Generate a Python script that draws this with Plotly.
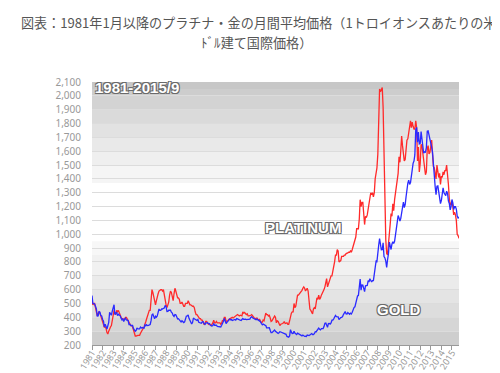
import plotly.graph_objects as go
import pandas as pd

# Monthly average prices (USD per troy ounce), Jan 1981 - Sep 2015
gold = [
    557, 500, 499, 496, 480, 460, 409, 410, 443, 437, 413, 410,  # 1981
    384, 374, 330, 350, 334, 315, 339, 364, 436, 422, 415, 444,  # 1982
    481, 491, 420, 432, 438, 413, 422, 416, 411, 394, 381, 388,  # 1983
    370, 386, 394, 381, 377, 377, 348, 348, 341, 340, 341, 320,  # 1984
    303, 299, 304, 324, 316, 317, 317, 330, 323, 326, 325, 322,  # 1985
    345, 339, 346, 340, 342, 343, 348, 376, 418, 423, 396, 390,  # 1986
    408, 401, 409, 438, 460, 450, 450, 461, 460, 465, 467, 486,  # 1987
    477, 442, 443, 451, 451, 451, 437, 431, 413, 406, 420, 418,  # 1988
    404, 388, 390, 384, 371, 367, 375, 365, 362, 367, 394, 409,  # 1989
    410, 417, 393, 374, 369, 352, 362, 395, 389, 381, 381, 378,  # 1990
    384, 364, 363, 358, 357, 367, 368, 356, 349, 358, 360, 361,  # 1991
    354, 354, 345, 338, 337, 341, 353, 343, 345, 344, 335, 334,  # 1992
    329, 329, 330, 342, 367, 372, 392, 379, 355, 364, 373, 383,  # 1993
    387, 382, 384, 377, 381, 385, 385, 380, 391, 389, 384, 379,  # 1994
    379, 377, 382, 391, 385, 387, 386, 383, 383, 383, 386, 387,  # 1995
    400, 405, 396, 393, 392, 385, 383, 387, 383, 381, 378, 369,  # 1996
    355, 346, 352, 344, 344, 341, 324, 324, 322, 325, 306, 289,  # 1997
    289, 297, 296, 308, 299, 292, 293, 284, 289, 296, 294, 291,  # 1998
    287, 288, 286, 282, 277, 262, 256, 257, 265, 311, 293, 283,  # 1999
    284, 300, 286, 280, 275, 286, 282, 275, 274, 270, 266, 272,  # 2000
    266, 262, 263, 261, 272, 270, 268, 273, 283, 283, 276, 276,  # 2001
    282, 296, 294, 302, 314, 322, 314, 310, 319, 317, 319, 333,  # 2002
    357, 359, 340, 328, 355, 356, 351, 360, 379, 379, 389, 407,  # 2003
    414, 405, 406, 404, 383, 392, 398, 400, 405, 420, 439, 442,  # 2004
    424, 423, 434, 428, 422, 430, 424, 437, 456, 470, 476, 510,  # 2005
    549, 555, 557, 610, 676, 596, 633, 632, 598, 586, 628, 629,  # 2006
    631, 665, 655, 679, 667, 655, 665, 665, 712, 754, 806, 803,  # 2007
    889, 923, 968, 909, 888, 889, 939, 839, 829, 806, 761, 816,  # 2008
    858, 943, 924, 890, 928, 946, 934, 949, 996, 1044, 1127, 1135,  # 2009
    1118, 1095, 1113, 1148, 1205, 1233, 1193, 1215, 1271, 1343, 1370, 1391,  # 2010
    1360, 1374, 1424, 1474, 1512, 1529, 1573, 1756, 1772, 1665, 1739, 1652,  # 2011
    1656, 1742, 1674, 1650, 1585, 1596, 1594, 1626, 1744, 1747, 1721, 1684,  # 2012
    1671, 1627, 1593, 1487, 1414, 1343, 1286, 1347, 1349, 1316, 1275, 1221,  # 2013
    1244, 1300, 1336, 1299, 1287, 1279, 1311, 1296, 1239, 1223, 1176, 1200,  # 2014
    1251, 1227, 1179, 1199, 1199, 1182, 1131, 1117, 1125,  # 2015
]

platinum = [
    520, 490, 500, 500, 470, 440, 410, 430, 440, 430, 410, 400,  # 1981
    370, 360, 330, 330, 320, 290, 280, 300, 320, 330, 340, 370,  # 1982
    410, 450, 430, 420, 450, 440, 450, 430, 420, 400, 390, 390,  # 1983
    380, 390, 400, 400, 390, 380, 360, 350, 340, 340, 330, 310,  # 1984
    280, 265, 265, 270, 270, 270, 270, 285, 300, 310, 320, 330,  # 1985
    360, 370, 390, 410, 440, 450, 450, 520, 600, 580, 550, 500,  # 1986
    490, 520, 560, 570, 590, 600, 600, 600, 590, 600, 550, 500,  # 1987
    490, 470, 490, 510, 560, 590, 580, 540, 520, 570, 610, 590,  # 1988
    550, 540, 540, 530, 500, 500, 510, 490, 480, 480, 500, 500,  # 1989
    500, 520, 500, 490, 490, 480, 480, 480, 470, 440, 420, 420,  # 1990
    410, 400, 390, 390, 380, 380, 360, 350, 350, 370, 370, 360,  # 1991
    350, 355, 350, 340, 350, 360, 380, 360, 360, 370, 360, 360,  # 1992
    355, 360, 350, 360, 380, 370, 400, 400, 370, 370, 375, 385,  # 1993
    390, 390, 395, 400, 395, 400, 410, 410, 420, 420, 415, 410,  # 1994
    415, 410, 410, 440, 430, 435, 430, 420, 425, 410, 410, 410,  # 1995
    415, 420, 410, 400, 395, 390, 395, 395, 385, 380, 385, 375,  # 1996
    360, 365, 380, 375, 400, 430, 420, 420, 410, 415, 395, 370,  # 1997
    375, 385, 400, 410, 400, 360, 375, 370, 355, 340, 350, 350,  # 1998
    355, 360, 370, 355, 355, 360, 350, 350, 375, 420, 430, 440,  # 1999
    440, 500, 470, 480, 520, 560, 560, 570, 580, 580, 595, 610,  # 2000
    620, 610, 590, 600, 610, 590, 530, 460, 450, 430, 425, 460,  # 2001
    470, 460, 510, 540, 530, 560, 530, 540, 560, 570, 580, 600,  # 2002
    620, 660, 680, 620, 640, 660, 690, 700, 700, 730, 760, 800,  # 2003
    850, 850, 890, 880, 800, 810, 810, 840, 840, 840, 850, 850,  # 2004
    860, 860, 865, 870, 870, 880, 870, 890, 910, 925, 960, 980,  # 2005
    1040, 1040, 1040, 1110, 1250, 1200, 1230, 1230, 1160, 1070, 1130, 1120,  # 2006
    1140, 1180, 1220, 1280, 1300, 1290, 1300, 1270, 1300, 1400, 1440, 1480,  # 2007
    1580, 1950, 2050, 2030, 2050, 2060, 1920, 1530, 1280, 960, 860, 850,  # 2008
    930, 1040, 1070, 1150, 1130, 1220, 1170, 1250, 1290, 1340, 1390, 1440,  # 2009
    1560, 1520, 1600, 1710, 1640, 1550, 1530, 1540, 1610, 1680, 1690, 1730,  # 2010
    1790, 1820, 1770, 1810, 1780, 1760, 1760, 1820, 1770, 1530, 1630, 1450,  # 2011
    1510, 1650, 1640, 1580, 1510, 1450, 1430, 1450, 1620, 1640, 1580, 1590,  # 2012
    1650, 1680, 1580, 1490, 1480, 1450, 1400, 1500, 1440, 1410, 1440, 1360,  # 2013
    1420, 1410, 1450, 1430, 1460, 1460, 1500, 1440, 1360, 1260, 1210, 1220,  # 2014
    1240, 1200, 1140, 1160, 1140, 1100, 1000, 990, 970,  # 2015
]

months = pd.date_range("1981-01-01", periods=len(gold), freq="MS")
year_ticks = list(range(1981, 2016))
tick_vals = [pd.Timestamp(f"{y}-01-01") for y in year_ticks]
tick_text = [str(y) for y in year_ticks]

title_line1 = "図表：1981年1月以降のプラチナ・金の月間平均価格（1トロイオンスあたりの米"
title_line2 = "ﾄﾞﾙ建て国際価格）"
period_label = "1981-2015/9"
plat_label = "PLATINUM"
gold_label = "GOLD"

# background band styling (value ranges -> gray shade)
bands = [
    (2050, 2100, "#c7c7c7"), (2000, 2050, "#cdcdcd"), (1900, 2000, "#d3d3d3"),
    (1800, 1900, "#dadada"), (1700, 1800, "#e2e2e2"), (1600, 1700, "#e9e9e9"),
    (1500, 1600, "#efefef"), (1370, 1500, "#f5f5f5"),
    (850, 950, "#f7f7f7"), (700, 850, "#f1f1f1"), (600, 700, "#ebebeb"),
    (500, 600, "#e4e4e4"), (400, 500, "#dddddd"), (300, 400, "#d6d6d6"),
    (200, 300, "#cecece"),
]

fig = go.Figure()
fig.add_trace(go.Scatter(x=months, y=platinum, mode="lines", name="PLATINUM",
                         line=dict(color="#ff2a2a", width=1.3)))
fig.add_trace(go.Scatter(x=months, y=gold, mode="lines", name="GOLD",
                         line=dict(color="#2a2aff", width=1.3)))

for y0, y1, c in bands:
    fig.add_shape(type="rect", xref="paper", x0=0, x1=1, yref="y", y0=y0, y1=y1,
                  fillcolor=c, line_width=0, layer="below")

W, H = 500, 373
L, R, T, B = 84, 49, 73.5, 36
pw, ph = W - L - R, H - T - B

def px(x):
    return (x - L) / pw

def py(y):
    return (H - B - y) / ph

outline = "1px 1px 0 #6a6a6a, -1px -1px 0 #6a6a6a, 1px -1px 0 #6a6a6a, -1px 1px 0 #6a6a6a"
lab_font = dict(family="Liberation Sans", size=15, color="white", weight="bold", shadow=outline)

for txt, cx, cy in [(period_label, 129, 79), (plat_label, 294.5, 219), (gold_label, 390, 301)]:
    fig.add_annotation(x=px(cx), y=py(cy), xref="paper", yref="paper", text=txt,
                       showarrow=False, font=lab_font, xanchor="center", yanchor="middle")

title_font = dict(family="Noto Sans CJK JP", size=13.1, color="#555555")
fig.add_annotation(x=px(250), y=py(14), xref="paper", yref="paper", text=title_line1,
                   showarrow=False, font=title_font, xanchor="center", yanchor="middle")
fig.add_annotation(x=px(248), y=py(34), xref="paper", yref="paper", text=title_line2,
                   showarrow=False, font=title_font, xanchor="center", yanchor="middle")

fig.update_layout(
    width=W, height=H,
    margin=dict(l=L, r=R, t=T, b=B, pad=0),
    paper_bgcolor="white", plot_bgcolor="white",
    showlegend=False,
    xaxis=dict(range=[months[0], months[-1]], tickvals=tick_vals, ticktext=tick_text,
               tickangle=-58, tickfont=dict(family="Noto Sans", size=9, color="#999999"),
               ticks="outside", ticklen=4, tickcolor="#999999", showgrid=False,
               showline=True, linecolor="#999999", linewidth=1, zeroline=False,
               ticklabelstandoff=-6, automargin=False),
    yaxis=dict(range=[200, 2100], dtick=100, tickformat=",",
               tickfont=dict(family="Noto Sans", size=10, color="#999999"),
               showgrid=True, gridcolor="#dcdcdc", gridwidth=1, zeroline=False,
               ticklabelstandoff=10, automargin=False),
)

fig.write_html("out.html")
